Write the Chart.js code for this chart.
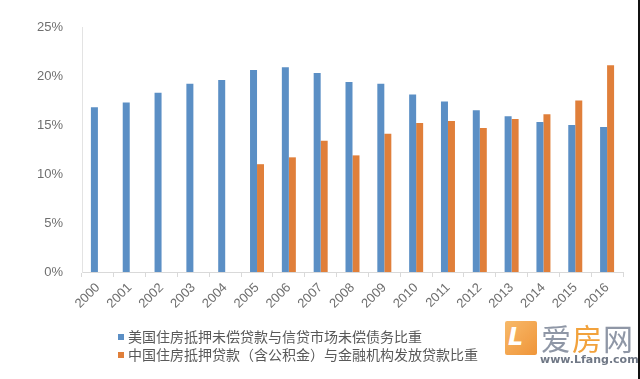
<!DOCTYPE html>
<html>
<head>
<meta charset="utf-8">
<script src="https://cdn.jsdelivr.net/npm/chart.js@4/dist/chart.umd.min.js"></script>
<style>
  html, body { margin: 0; padding: 0; background: #fff; }
  #wrap { position: relative; width: 640px; height: 379px; overflow: hidden; background: #fff; }
  #c { position: absolute; left: 0; top: 0; }
  #edge { position: absolute; right: 0; top: 0; width: 2px; height: 379px; background: #111; }
  #legend { position: absolute; left: 118px; top: 327px; font-family: "Noto Sans CJK SC", sans-serif; font-size: 14px; color: #595959; }
  #legend .row { height: 18px; line-height: 18px; white-space: nowrap; }
  #legend .sw { display: inline-block; width: 6px; height: 6px; margin-right: 4px; vertical-align: middle; position: relative; top: -1px; }
  #wm { position: absolute; left: 503px; top: 317px; width: 132px; height: 52px; font-family: "DejaVu Sans", sans-serif; }
  #wm .logo { position: absolute; left: 2px; top: 4px; width: 32px; height: 34px; background: linear-gradient(135deg, #f7b25a, #ee8a24); border-radius: 2px; opacity: 0.9; }
  #wm .logo span { position: absolute; left: 3px; top: 2px; font: bold 24px "DejaVu Sans", sans-serif; color: #fff; font-style: italic; }
  #wm .name { position: absolute; left: 38px; top: -2px; font: 30px "Noto Sans CJK SC", sans-serif; letter-spacing: 1px; }
  #wm .url { position: absolute; left: 37px; top: 36px; font: bold 11px "DejaVu Sans", sans-serif; color: #707886; }
</style>
</head>
<body>
<div id="wrap">
  <canvas id="c" width="640" height="379"></canvas>
  <div id="legend"></div>
  <div id="wm">
    <div class="logo"><span>L</span></div>
    <div class="name"><span style="color:#8f97a6">爱</span><span style="color:#f2a23c">房</span><span style="color:#8f97a6">网</span></div>
    <div class="url">www.Lfang.com</div>
  </div>
  <div id="edge"></div>
</div>
<script>
const years = ["2000","2001","2002","2003","2004","2005","2006","2007","2008","2009","2010","2011","2012","2013","2014","2015","2016"];
const usLabel = "美国住房抵押未偿贷款与信贷市场未偿债务比重";
const cnLabel = "中国住房抵押贷款（含公积金）与金融机构发放贷款比重";
const usShare = [16.8, 17.3, 18.3, 19.2, 19.6, 20.6, 20.9, 20.3, 19.4, 19.2, 18.1, 17.4, 16.5, 15.9, 15.3, 15.0, 14.8];
const cnShare = [null, null, null, null, null, 11.0, 11.7, 13.4, 11.9, 14.1, 15.2, 15.4, 14.7, 15.6, 16.1, 17.5, 21.1];
const yTicks = [0, 5, 10, 15, 20, 25];

const blue = "#5b8fc5";
const orange = "#e07f3a";

const chart = new Chart(document.getElementById("c"), {
  type: "bar",
  data: {
    labels: years,
    datasets: [
      { label: usLabel, data: usShare, backgroundColor: blue, categoryPercentage: 0.44, barPercentage: 1.0 },
      { label: cnLabel, data: cnShare, backgroundColor: orange, categoryPercentage: 0.44, barPercentage: 1.0 }
    ]
  },
  options: {
    responsive: false,
    animation: false,
    layout: { padding: { left: 0, right: 17, top: 27, bottom: 0 } },
    plugins: { legend: { display: false }, tooltip: { enabled: false } },
    scales: {
      x: {
        grid: { display: true, drawOnChartArea: false, offset: true, color: "#d9d9d9", tickLength: 5 },
        border: { display: true, color: "#d9d9d9" },
        ticks: { minRotation: 45, maxRotation: 45, color: "#6f6f6f", font: { family: "Liberation Sans", size: 13 }, padding: 3 },
        afterFit: s => { s.height = 107; }
      },
      y: {
        min: 0, max: 25,
        afterBuildTicks: s => { s.ticks = yTicks.map(v => ({ value: v })); },
        grid: { display: false },
        border: { display: true, color: "#e3e3e3" },
        ticks: { color: "#6f6f6f", font: { family: "Liberation Sans", size: 13 }, padding: 11, callback: v => v + "%" },
        afterFit: s => { s.width = 82; }
      }
    }
  }
});

const lg = document.getElementById("legend");
chart.data.datasets.forEach(ds => {
  const row = document.createElement("div");
  row.className = "row";
  const sw = document.createElement("span");
  sw.className = "sw";
  sw.style.background = ds.backgroundColor;
  row.appendChild(sw);
  row.appendChild(document.createTextNode(ds.label));
  lg.appendChild(row);
});
</script>
</body>
</html>
